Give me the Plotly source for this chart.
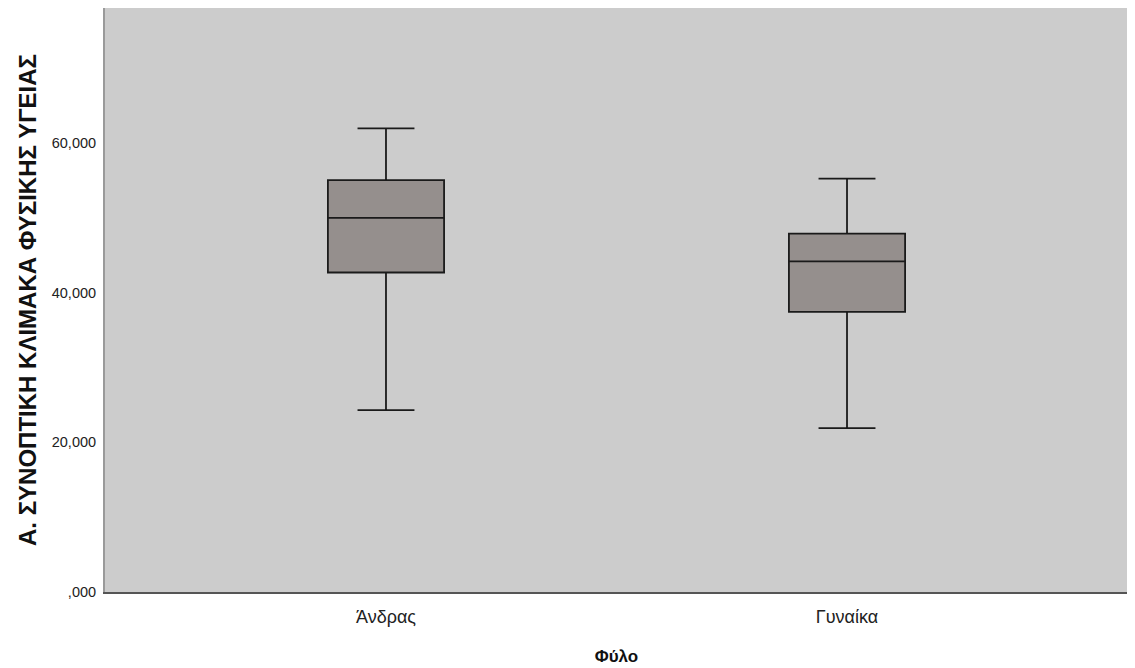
import plotly.graph_objects as go

categories = ["Άνδρας", "Γυναίκα"]
lower_whisker = [24300, 21900]
q1_values = [42700, 37450]
median_values = [50000, 44200]
q3_values = [55050, 47900]
upper_whisker = [61950, 55250]
y_tick_values = [0, 20000, 40000, 60000]
y_tick_labels = [",000", "20,000", "40,000", "60,000"]

fig = go.Figure()
fig.add_trace(go.Box(
    x=categories,
    q1=q1_values,
    median=median_values,
    q3=q3_values,
    lowerfence=lower_whisker,
    upperfence=upper_whisker,
    fillcolor="#958f8d",
    line=dict(color="#1a1a1a", width=1.8),
    width=0.252,
    whiskerwidth=0.49,
    boxpoints=False,
    hoverinfo="skip",
    showlegend=False,
))

# the page body has an 8px default margin, so the figure is sized/offset to compensate
fig.update_layout(
    width=1127,
    height=660,
    margin=dict(l=97, r=7, t=0, b=76),
    paper_bgcolor="white",
    plot_bgcolor="#cccccc",
    font=dict(family="Liberation Sans, Arial, sans-serif", color="#111111"),
    xaxis=dict(
        range=[-0.6095, 1.6095],
        showgrid=False,
        zeroline=False,
        showline=True,
        linecolor="#555555",
        linewidth=1.5,
        ticks="",
        ticklabelstandoff=8,
        tickfont=dict(size=18, family="Liberation Sans Narrow, Liberation Sans, sans-serif", color="#222222"),
        title=dict(text="<b>Φύλο</b>", font=dict(size=17, color="#111111"), standoff=24),
    ),
    yaxis=dict(
        range=[0, 78050],
        tickvals=y_tick_values,
        ticktext=y_tick_labels,
        showgrid=False,
        zeroline=False,
        showline=True,
        linecolor="#9a9a9a",
        linewidth=2,
        ticks="",
        ticklabelstandoff=4,
        tickfont=dict(size=14.5, color="#222222"),
        title=dict(text="<b>Α. ΣΥΝΟΠΤΙΚΗ ΚΛΙΜΑΚΑ ΦΥΣΙΚΗΣ ΥΓΕΙΑΣ</b>", font=dict(size=24, color="#111111"), standoff=8),
    ),
)

fig.write_html("out.html")
